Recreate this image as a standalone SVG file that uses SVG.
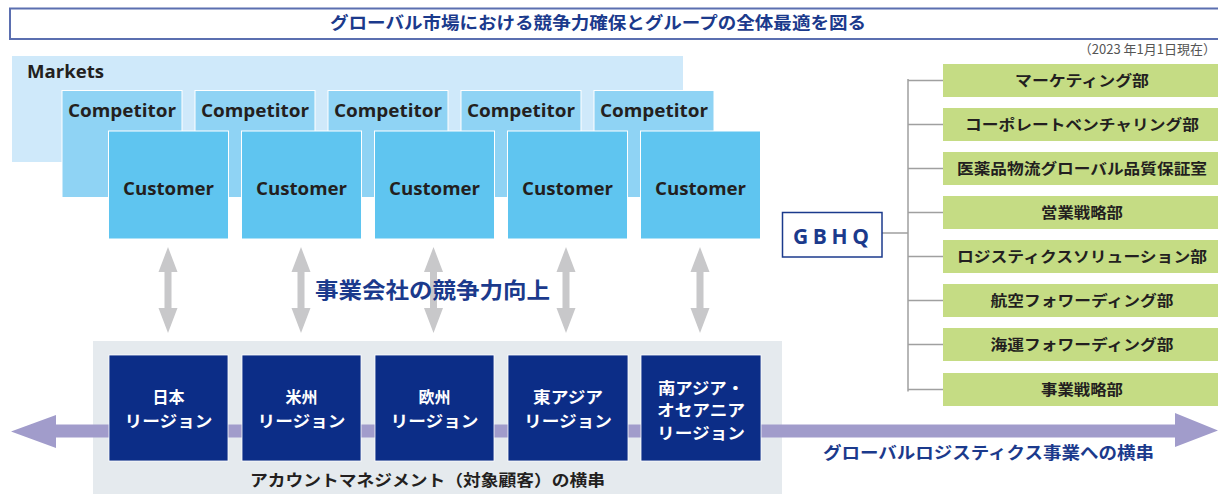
<svg xmlns="http://www.w3.org/2000/svg" width="1218" height="494" viewBox="0 0 1218 494">
<style>
.lat{font-family:"Open Sans","Liberation Sans",sans-serif;font-weight:bold;fill:#231f20;text-anchor:middle}
.jp{font-family:"Noto Sans CJK JP","Noto Sans",sans-serif;font-weight:bold;text-anchor:middle}
.comp{fill:#8fd3f4;stroke:#ffffff;stroke-width:1}
.cust{fill:#5fc5f0;stroke:#ffffff;stroke-width:1}
.reg{fill:#0c2d87;stroke:#ffffff;stroke-width:0.8}
.regt{fill:#ffffff;font-size:16px}
.grn{fill:#c5dc84}
.grnt{fill:#231f20;font-size:15px}
.navy{fill:#1b3a8c}
.varrow{fill:#c8c8ca}
.tree{fill:none;stroke:#a0a0a0;stroke-width:1.5}
</style>

<g id="title">
  <rect x="10" y="8.5" width="1215" height="30.5" fill="#ffffff" stroke="#5b6fb0" stroke-width="2"/>
  <text class="jp navy" x="598" y="29" font-size="17" textLength="536" lengthAdjust="spacingAndGlyphs">グローバル市場における競争力確保とグループの全体最適を図る</text>
</g>
<text id="date" x="1216" y="54" text-anchor="end" font-family="Noto Sans CJK JP, Noto Sans, sans-serif" font-size="13" fill="#555555">（2023 年1月1日現在）</text>

<g id="markets">
  <rect x="12" y="56" width="671" height="106" fill="#cfe9fa"/>
  <text class="lat" x="27" y="78" font-size="17.5" style="text-anchor:start" textLength="77" lengthAdjust="spacingAndGlyphs">Markets</text>
</g>

<g id="competitors">
  <g id="comp1"><rect class="comp" x="62" y="90.5" width="120" height="107"/><text class="lat" x="122" y="116.5" font-size="18" textLength="108" lengthAdjust="spacingAndGlyphs">Competitor</text></g>
  <g id="comp2"><rect class="comp" x="195" y="90.5" width="120" height="107"/><text class="lat" x="255" y="116.5" font-size="18" textLength="108" lengthAdjust="spacingAndGlyphs">Competitor</text></g>
  <g id="comp3"><rect class="comp" x="328" y="90.5" width="120" height="107"/><text class="lat" x="388" y="116.5" font-size="18" textLength="108" lengthAdjust="spacingAndGlyphs">Competitor</text></g>
  <g id="comp4"><rect class="comp" x="461" y="90.5" width="120" height="107"/><text class="lat" x="521" y="116.5" font-size="18" textLength="108" lengthAdjust="spacingAndGlyphs">Competitor</text></g>
  <g id="comp5"><rect class="comp" x="594" y="90.5" width="120" height="107"/><text class="lat" x="654" y="116.5" font-size="18" textLength="108" lengthAdjust="spacingAndGlyphs">Competitor</text></g>
</g>

<g id="customers">
  <g id="cust1"><rect class="cust" x="108.5" y="131" width="120" height="108"/><text class="lat" x="168.5" y="194.5" font-size="18" textLength="91" lengthAdjust="spacingAndGlyphs">Customer</text></g>
  <g id="cust2"><rect class="cust" x="241.5" y="131" width="120" height="108"/><text class="lat" x="301.5" y="194.5" font-size="18" textLength="91" lengthAdjust="spacingAndGlyphs">Customer</text></g>
  <g id="cust3"><rect class="cust" x="374.5" y="131" width="120" height="108"/><text class="lat" x="434.5" y="194.5" font-size="18" textLength="91" lengthAdjust="spacingAndGlyphs">Customer</text></g>
  <g id="cust4"><rect class="cust" x="507.5" y="131" width="120" height="108"/><text class="lat" x="567.5" y="194.5" font-size="18" textLength="91" lengthAdjust="spacingAndGlyphs">Customer</text></g>
  <g id="cust5"><rect class="cust" x="640.5" y="131" width="120" height="108"/><text class="lat" x="700.5" y="194.5" font-size="18" textLength="91" lengthAdjust="spacingAndGlyphs">Customer</text></g>
</g>

<g id="panel">
  <rect x="93" y="341" width="689" height="153" fill="#e5eaee"/>
</g>

<g id="connectors">
  <polygon id="harrow" fill="#a19ccb" points="11,431.5 56,415 56,424.5 1175,424.5 1175,413 1218,430.5 1175,447 1175,437.5 56,437.5 56,448"/>
  <polygon class="varrow" points="168,247 177.5,272 171.5,272 171.5,308 177.5,308 168,333 158.5,308 164.5,308 164.5,272 158.5,272"/>
  <polygon class="varrow" points="301,247 310.5,272 304.5,272 304.5,308 310.5,308 301,333 291.5,308 297.5,308 297.5,272 291.5,272"/>
  <polygon class="varrow" points="433.5,247 443,272 437,272 437,308 443,308 433.5,333 424,308 430,308 430,272 424,272"/>
  <polygon class="varrow" points="566,247 575.5,272 569.5,272 569.5,308 575.5,308 566,333 556.5,308 562.5,308 562.5,272 556.5,272"/>
  <polygon class="varrow" points="700,247 709.5,272 703.5,272 703.5,308 709.5,308 700,333 690.5,308 696.5,308 696.5,272 690.5,272"/>
  <path class="tree" d="M882,233 H908 M908,79 V391.5 M908,80.5 H943 M908,124.5 H943 M908,168.5 H943 M908,212.5 H943 M908,256.5 H943 M908,300.5 H943 M908,344.5 H943 M908,389.5 H943"/>
</g>

<text id="center-label" class="jp navy" x="432.5" y="298" font-size="22" textLength="235" lengthAdjust="spacingAndGlyphs">事業会社の競争力向上</text>

<g id="regions">
  <g id="reg1"><rect class="reg" x="109" y="355" width="119" height="106"/>
    <text class="jp regt" x="168.5" y="403">日本</text>
    <text class="jp regt" x="168.5" y="427" textLength="88" lengthAdjust="spacingAndGlyphs">リージョン</text></g>
  <g id="reg2"><rect class="reg" x="242" y="355" width="119" height="106"/>
    <text class="jp regt" x="301.5" y="403">米州</text>
    <text class="jp regt" x="301.5" y="427" textLength="88" lengthAdjust="spacingAndGlyphs">リージョン</text></g>
  <g id="reg3"><rect class="reg" x="375" y="355" width="119" height="106"/>
    <text class="jp regt" x="434.5" y="403">欧州</text>
    <text class="jp regt" x="434.5" y="427" textLength="88" lengthAdjust="spacingAndGlyphs">リージョン</text></g>
  <g id="reg4"><rect class="reg" x="508" y="355" width="120" height="106"/>
    <text class="jp regt" x="568" y="403" textLength="70" lengthAdjust="spacingAndGlyphs">東アジア</text>
    <text class="jp regt" x="568" y="427" textLength="88" lengthAdjust="spacingAndGlyphs">リージョン</text></g>
  <g id="reg5"><rect class="reg" x="641" y="355" width="120" height="106"/>
    <text class="jp regt" x="701" y="394" textLength="86" lengthAdjust="spacingAndGlyphs">南アジア・</text>
    <text class="jp regt" x="701" y="416" textLength="88" lengthAdjust="spacingAndGlyphs">オセアニア</text>
    <text class="jp regt" x="701" y="439" textLength="88" lengthAdjust="spacingAndGlyphs">リージョン</text></g>
</g>

<text id="account-label" class="jp" x="427.5" y="486" font-size="16" fill="#231f20" textLength="355" lengthAdjust="spacingAndGlyphs">アカウントマネジメント（対象顧客）の横串</text>
<text id="logistics-label" class="jp navy" x="988.5" y="459" font-size="16.5" textLength="331" lengthAdjust="spacingAndGlyphs">グローバルロジスティクス事業への横串</text>

<g id="gbhq">
  <rect x="782.5" y="212.5" width="99.5" height="44.5" fill="#ffffff" stroke="#1b3a8c" stroke-width="1.5"/>
  <text class="lat" x="831" y="243.5" font-size="21" style="fill:#1b3a8c" textLength="76" lengthAdjust="spacing">GBHQ</text>
</g>

<g id="departments">
  <g id="d1"><rect class="grn" x="943" y="64" width="280" height="33"/><text class="jp grnt" x="1082" y="86" textLength="134" lengthAdjust="spacingAndGlyphs">マーケティング部</text></g>
  <g id="d2"><rect class="grn" x="943" y="108" width="280" height="33"/><text class="jp grnt" x="1082" y="130" textLength="234" lengthAdjust="spacingAndGlyphs">コーポレートベンチャリング部</text></g>
  <g id="d3"><rect class="grn" x="943" y="152" width="280" height="33"/><text class="jp grnt" x="1082" y="174" textLength="250" lengthAdjust="spacingAndGlyphs">医薬品物流グローバル品質保証室</text></g>
  <g id="d4"><rect class="grn" x="943" y="196" width="280" height="33"/><text class="jp grnt" x="1082" y="218" textLength="82" lengthAdjust="spacingAndGlyphs">営業戦略部</text></g>
  <g id="d5"><rect class="grn" x="943" y="240" width="280" height="33"/><text class="jp grnt" x="1082" y="262" textLength="250" lengthAdjust="spacingAndGlyphs">ロジスティクスソリューション部</text></g>
  <g id="d6"><rect class="grn" x="943" y="284" width="280" height="33"/><text class="jp grnt" x="1082" y="306" textLength="183" lengthAdjust="spacingAndGlyphs">航空フォワーディング部</text></g>
  <g id="d7"><rect class="grn" x="943" y="328" width="280" height="33"/><text class="jp grnt" x="1082" y="350" textLength="183" lengthAdjust="spacingAndGlyphs">海運フォワーディング部</text></g>
  <g id="d8"><rect class="grn" x="943" y="373" width="280" height="33"/><text class="jp grnt" x="1082" y="395" textLength="82" lengthAdjust="spacingAndGlyphs">事業戦略部</text></g>
</g>
</svg>
